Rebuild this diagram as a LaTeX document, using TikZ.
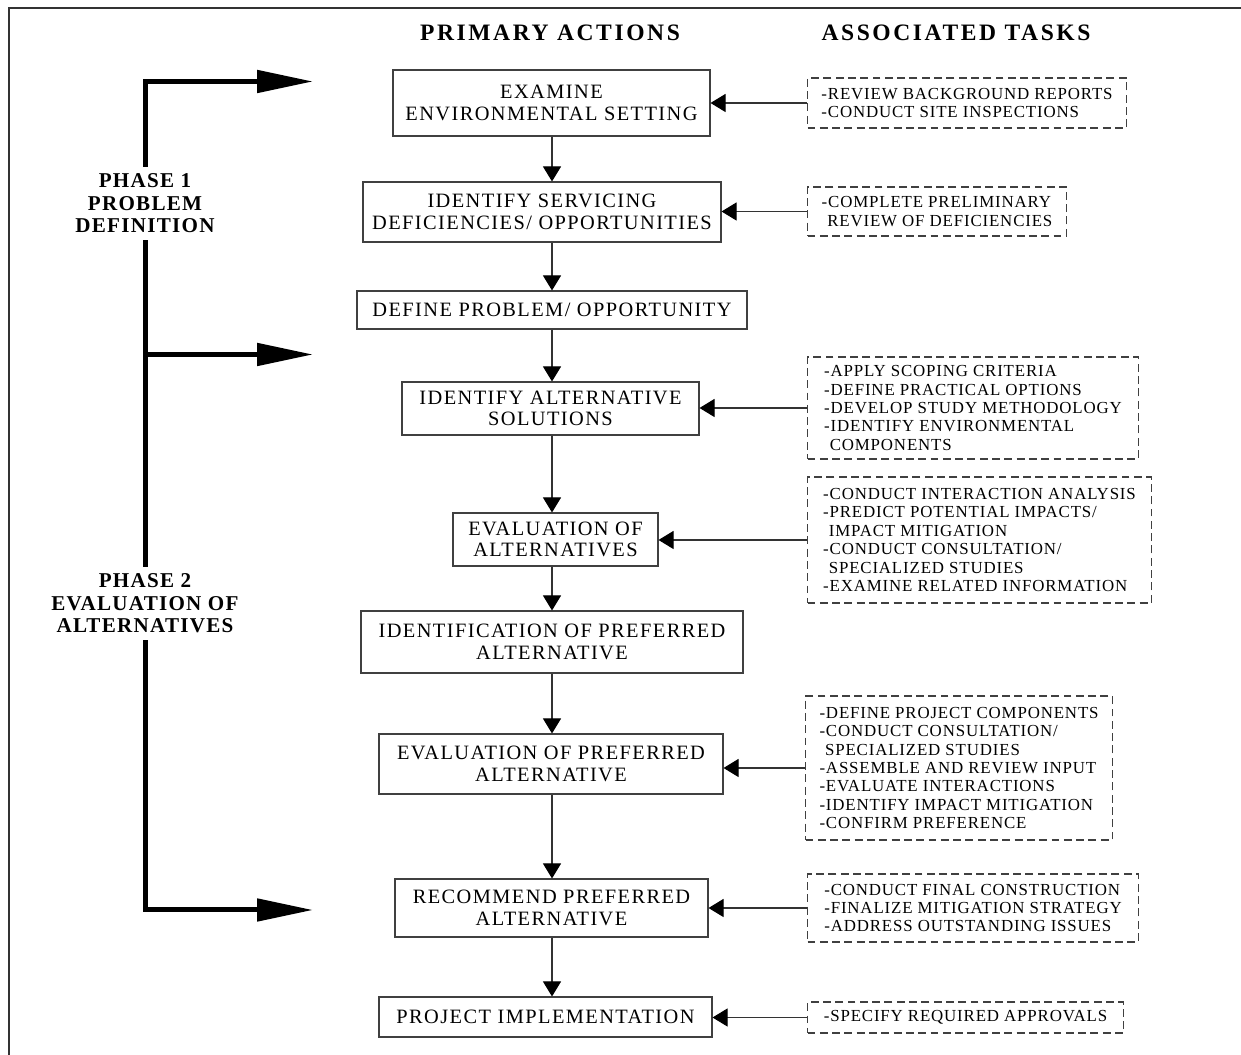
\documentclass[tikz,border=0pt]{standalone}
\usepackage{fontspec}
\setmainfont{Liberation Serif}
\newfontfamily\boxfont[LetterSpace=7]{Liberation Serif}
\newfontfamily\taskfont[LetterSpace=5]{Liberation Serif}
\newfontfamily\headfont[LetterSpace=11]{Liberation Serif}
\newfontfamily\phasefont[LetterSpace=6]{Liberation Serif}
\usetikzlibrary{arrows.meta}

\begin{document}
\begin{tikzpicture}[
  action/.style={draw=black!75,line width=0.6pt,align=center,inner sep=0pt,
    font=\boxfont\fontsize{11.6}{12.3}\selectfont},
  task/.style={draw=black!75,line width=0.6pt,dash pattern=on 4.5pt off 2.5pt,
    align=left,inner sep=0pt,anchor=west,
    font=\taskfont\fontsize{9.6}{10.5}\selectfont},
  flow/.style={draw=black!80,line width=0.6pt,
    -{Triangle[length=0.3cm,width=0.36cm,color=black]}},
  phase/.style={line width=0.1cm},
  bigtip/.style={-{Triangle[length=1.12cm,width=0.44cm]}},
  phaselabel/.style={align=center,inner sep=0pt,minimum height=1.46cm,
    font=\phasefont\bfseries\fontsize{12}{12.8}\selectfont},
  heading/.style={font=\headfont\bfseries\fontsize{13.4}{14}\selectfont}]
  \useasboundingbox (0,0) rectangle (24.82,21.1);
  \draw[black!80,line width=1.1pt] (0.18,0) |- (24.82,20.94);

  % Column headings.
  \node[heading] (hact) at (11.00,20.44) {PRIMARY ACTIONS};
  \node[heading] (htask) at (19.12,20.44) {ASSOCIATED TASKS};

  % Primary actions, top to bottom.
  \node[action,minimum width=6.34cm,minimum height=1.32cm] (m1) at (11.03,19.04)
    {EXAMINE\\ENVIRONMENTAL SETTING};
  \node[action,minimum width=7.16cm,minimum height=1.20cm] (m2) at (10.84,16.86)
    {IDENTIFY SERVICING\\DEFICIENCIES/ OPPORTUNITIES};
  \node[action,minimum width=7.80cm,minimum height=0.76cm] (m3) at (11.04,14.90)
    {DEFINE PROBLEM/ OPPORTUNITY};
  \node[action,minimum width=5.94cm,minimum height=1.06cm] (m4) at (11.01,12.93)
    {IDENTIFY ALTERNATIVE\\SOLUTIONS};
  \node[action,minimum width=4.10cm,minimum height=1.06cm] (m5) at (11.11,10.31)
    {EVALUATION OF\\ALTERNATIVES};
  \node[action,minimum width=7.64cm,minimum height=1.24cm] (m6) at (11.04,8.26)
    {IDENTIFICATION OF PREFERRED\\ALTERNATIVE};
  \node[action,minimum width=6.88cm,minimum height=1.20cm] (m7) at (11.02,5.82)
    {EVALUATION OF PREFERRED\\ALTERNATIVE};
  \node[action,minimum width=6.26cm,minimum height=1.16cm] (m8) at (11.03,2.94)
    {RECOMMEND PREFERRED\\ALTERNATIVE};
  \node[action,minimum width=6.66cm,minimum height=0.80cm] (m9) at (10.91,0.76)
    {PROJECT IMPLEMENTATION};
  \foreach \a/\b in {m1/m2,m2/m3,m3/m4,m4/m5,m5/m6,m6/m7,m7/m8,m8/m9}{
    \draw[flow] (\a.south -| m3) -- (\b.north -| m3);
  }

  % Associated tasks, each feeding its action from the right.
  \node[task,minimum width=6.38cm,minimum height=1.00cm] (t1) at (16.14,19.04)
    {-REVIEW BACKGROUND REPORTS\\-CONDUCT SITE INSPECTIONS};
  \node[task,minimum width=5.18cm,minimum height=0.98cm] (t2) at (16.14,16.87)
    {-COMPLETE PRELIMINARY\\\phantom{-}REVIEW OF DEFICIENCIES};
  \node[task,minimum width=6.62cm,minimum height=2.04cm] (t3) at (16.14,12.94)
    {-APPLY SCOPING CRITERIA\\-DEFINE PRACTICAL OPTIONS\\-DEVELOP STUDY METHODOLOGY\\
     -IDENTIFY ENVIRONMENTAL\\\phantom{-}COMPONENTS};
  \node[task,minimum width=6.88cm,minimum height=2.52cm] (t4) at (16.14,10.30)
    {-CONDUCT INTERACTION ANALYSIS\\-PREDICT POTENTIAL IMPACTS/\\\phantom{-}IMPACT MITIGATION\\
     -CONDUCT CONSULTATION/\\\phantom{-}SPECIALIZED STUDIES\\-EXAMINE RELATED INFORMATION};
  \node[task,minimum width=6.14cm,minimum height=2.88cm] (t5) at (16.10,5.74)
    {-DEFINE PROJECT COMPONENTS\\-CONDUCT CONSULTATION/\\\phantom{-}SPECIALIZED STUDIES\\
     -ASSEMBLE AND REVIEW INPUT\\-EVALUATE INTERACTIONS\\-IDENTIFY IMPACT MITIGATION\\
     -CONFIRM PREFERENCE};
  \node[task,minimum width=6.62cm,minimum height=1.36cm] (t6) at (16.14,2.94)
    {-CONDUCT FINAL CONSTRUCTION\\-FINALIZE MITIGATION STRATEGY\\-ADDRESS OUTSTANDING ISSUES};
  \node[task,minimum width=6.32cm,minimum height=0.62cm] (t7) at (16.14,0.75)
    {-SPECIFY REQUIRED APPROVALS};
  \foreach \t/\m in {t1/m1,t2/m2,t3/m4,t4/m5,t5/m7,t6/m8,t7/m9}{
    \draw[flow] (\t.west) -- (\t.west -| \m.east);
  }

  % Phase bracket on the left.
  \node[phaselabel] (p1) at (2.90,17.03) {PHASE 1\\PROBLEM\\DEFINITION};
  \node[phaselabel] (p2) at (2.90,9.03) {PHASE 2\\EVALUATION OF\\ALTERNATIVES};
  \coordinate (a1) at (6.26,19.47);
  \coordinate (j2) at (2.90,14.01);
  \coordinate (a2) at (6.26,14.01);
  \coordinate (a3) at (6.26,2.90);
  \draw[phase,bigtip] (p1.north) |- (a1);
  \draw[phase] (p1.south) -- (p2.north);
  \draw[phase,bigtip] (j2) -- (a2);
  \draw[phase,bigtip] (p2.south) |- (a3);
\end{tikzpicture}
\end{document}
